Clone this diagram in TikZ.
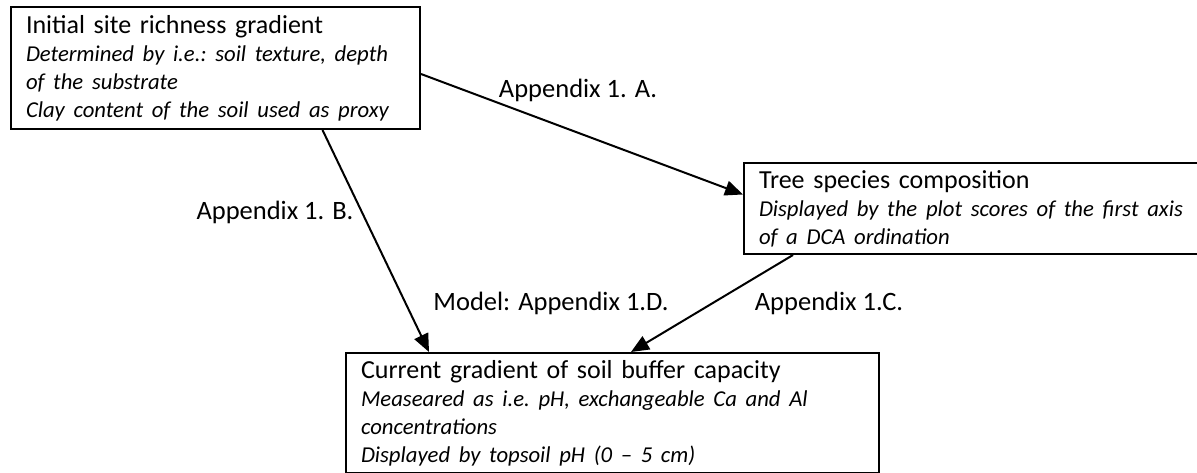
\documentclass[tikz,border=0pt]{standalone}
\usepackage{fontspec}
\setmainfont{Carlito}
\usetikzlibrary{arrows.meta}

\newcommand{\remark}[1]{\mbox{\fontsize{22.7}{28}\selectfont\itshape #1}}

\tikzset{
    infobox/.style={draw, rectangle, line width=2pt, anchor=north west,
        align=left, inner xsep=15pt, inner ysep=0pt,
        font=\fontsize{26}{28}\selectfont\frenchspacing},
    linklabel/.style={font=\fontsize{26.5}{28}\selectfont},
    link/.style={line width=2pt, -{Triangle[length=18pt,width=15pt]}}
}

\begin{document}
\begin{tikzpicture}[x=1pt, y=-1pt]
            \useasboundingbox (0,0) rectangle (1197,473);

            \node[infobox, text width=379pt, minimum width=409pt, minimum height=122pt] (site) at (10,6)
                {\mbox{Initial site richness gradient}\\
                 \remark{Determined by i.e.: soil texture, depth}\\
                 \remark{of the substrate}\\
                 \remark{Clay content of the soil used as proxy}};
            \node[infobox, text width=428pt, minimum width=458pt, minimum height=91pt] (tree) at (743,162)
                {\mbox{Tree species composition}\\
                 \remark{Displayed by the plot scores of the first axis}\\
                 \remark{of a DCA ordination}};
            \node[infobox, text width=503pt, minimum width=533pt, minimum height=120pt] (soil) at (345,352)
                {\mbox{Current gradient of soil buffer capacity}\\
                 \remark{Measeared as i.e. pH, exchangeable Ca and Al}\\
                 \remark{concentrations}\\
                 \remark{Displayed by topsoil pH (0 -- 5 cm)}};

            \draw[link] ([yshift=-6pt]site.east) -- ([yshift=14pt]tree.west);
            \draw[link] ([xshift=107pt]site.south) -- ([xshift=-183.5pt]soil.north);
            \draw[link] ([xshift=-180pt]tree.south) -- ([xshift=18.5pt]soil.north);

            \node[linklabel] (lblA) at (578,90) {Appendix 1. A.};
            \node[linklabel] (lblB) at (275,212) {Appendix 1. B.};
            \node[linklabel] (lblD) at (551,303) {Model: Appendix 1.D.};
            \node[linklabel] (lblC) at (829,303) {Appendix 1.C.};
        \end{tikzpicture}
\end{document}
